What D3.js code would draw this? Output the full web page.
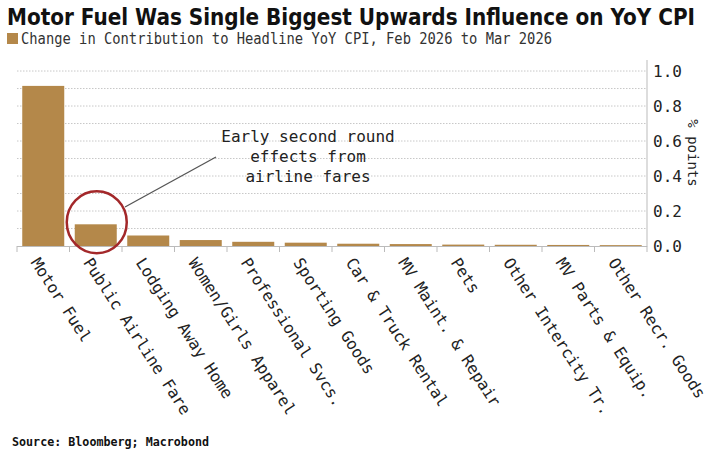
<!DOCTYPE html>
<html><head><meta charset="utf-8">
<script src="https://cdn.jsdelivr.net/npm/d3@7"></script>
<style>
html,body{margin:0;padding:0;background:#fff;}
svg{display:block;}
</style></head>
<body>
<svg id="chart" width="720" height="453"></svg>
<script>
const categories = ["Motor Fuel","Public Airline Fare","Lodging Away Home","Women/Girls Apparel","Professional Svcs.","Sporting Goods","Car & Truck Rental","MV Maint. & Repair","Pets","Other Intercity Tr.","MV Parts & Equip.","Other Recr. Goods"];
const values = [0.915,0.124,0.060,0.034,0.024,0.019,0.013,0.011,0.008,0.007,0.006,0.005];
const yTicks = [0,0.2,0.4,0.6,0.8,1.0];
const gridTicks = [0.1,0.2,0.3,0.4,0.5,0.6,0.7,0.8,0.9,1.0];
const titleText = "Motor Fuel Was Single Biggest Upwards Influence on YoY CPI";
const subtitleText = "Change in Contribution to Headline YoY CPI, Feb 2026 to Mar 2026";
const sourceText = "Source: Bloomberg; Macrobond";
const annotationLines = ["Early second round","effects from","airline fares"];
const highlightCategory = "Public Airline Fare";

const svg = d3.select("#chart");
const mono = "'DejaVu Sans Mono', 'Liberation Mono', monospace";
const barColor = "#b4884a";

const x = d3.scaleBand().domain(categories).range([17, 647]).paddingInner(0.2).paddingOuter(0.1);
const xb = d3.scaleBand().domain(categories).range([17, 647]);
const y = d3.scaleLinear().domain([0, 1.063]).range([246, 60]);

// title
svg.append("text").attr("x", 7).attr("y", 25)
  .attr("font-family", "'Liberation Sans Narrow', 'DejaVu Sans Condensed', 'Liberation Sans', sans-serif")
  .attr("font-weight", "bold").attr("font-size", 23).attr("fill", "#111")
  .attr("textLength", 688).attr("lengthAdjust", "spacingAndGlyphs")
  .text(titleText);

// legend
svg.append("rect").attr("x", 7).attr("y", 33).attr("width", 11).attr("height", 11).attr("fill", barColor);
svg.append("text").attr("x", 21).attr("y", 44)
  .attr("font-family", mono).attr("font-size", 15).attr("fill", "#333")
  .attr("textLength", 531).attr("lengthAdjust", "spacingAndGlyphs")
  .text(subtitleText);

// gridlines
svg.append("g").selectAll("line").data(gridTicks).join("line")
  .attr("x1", 17).attr("x2", 647)
  .attr("y1", d => y(d)).attr("y2", d => y(d))
  .attr("stroke", "#c8c8c8").attr("stroke-width", 1).attr("stroke-dasharray", "1.5,1.5");

// bars
svg.append("g").selectAll("rect").data(categories).join("rect")
  .attr("x", d => x(d)).attr("width", x.bandwidth())
  .attr("y", (d,i) => y(values[i])).attr("height", (d,i) => y(0) - y(values[i]))
  .attr("fill", barColor);

// x axis line and ticks
svg.append("line").attr("x1", 17).attr("x2", 647).attr("y1", y(0)+0.5).attr("y2", y(0)+0.5)
  .attr("stroke", "#bbb").attr("stroke-width", 1);
const bounds = categories.map(c => xb(c)).concat([647]);
svg.append("g").selectAll("line").data(bounds).join("line")
  .attr("x1", d => d).attr("x2", d => d).attr("y1", y(0)).attr("y2", y(0)+6)
  .attr("stroke", "#bbb").attr("stroke-width", 1);

// right axis line
svg.append("line").attr("x1", 647).attr("x2", 647).attr("y1", 60).attr("y2", y(0)+0.5)
  .attr("stroke", "#bbb").attr("stroke-width", 1);

// y tick labels
svg.append("g").selectAll("text").data(yTicks).join("text")
  .attr("x", 653).attr("y", d => y(d)).attr("dy", "0.36em")
  .attr("font-family", mono).attr("font-size", 16).attr("fill", "#222")
  .text(d => d3.format(".1f")(d));

// y axis title
svg.append("text").attr("transform", "translate(688,153) rotate(90)")
  .attr("text-anchor", "middle").attr("font-family", mono).attr("font-size", 14).attr("fill", "#222")
  .text("% points");

// x labels
svg.append("g").selectAll("text").data(categories).join("text")
  .attr("transform", d => `translate(${x(d) + x.bandwidth()/2 - 3},256) rotate(57)`)
  .attr("dy", "0.75em")
  .attr("font-family", mono).attr("font-size", 16).attr("fill", "#222")
  .text(d => d);

// annotation
const hx = x(highlightCategory) + x.bandwidth()/2;
const hv = values[categories.indexOf(highlightCategory)];
svg.append("ellipse").attr("cx", hx + 1).attr("cy", y(hv) - 2).attr("rx", 30).attr("ry", 31)
  .attr("fill", "none").attr("stroke", "#a3282a").attr("stroke-width", 2.5);
svg.append("line").attr("x1", 216).attr("y1", 157).attr("x2", 125).attr("y2", 207)
  .attr("stroke", "#555").attr("stroke-width", 1.3);
svg.append("g").selectAll("text").data(annotationLines).join("text")
  .attr("x", 308).attr("y", (d,i) => 142 + i*20)
  .attr("text-anchor", "middle").attr("font-family", mono).attr("font-size", 16).attr("fill", "#222")
  .text(d => d);

// source
svg.append("text").attr("x", 12).attr("y", 446)
  .attr("font-family", mono).attr("font-weight", "bold").attr("font-size", 13).attr("fill", "#111")
  .attr("textLength", 197).attr("lengthAdjust", "spacingAndGlyphs")
  .text(sourceText);
</script>
</body></html>
